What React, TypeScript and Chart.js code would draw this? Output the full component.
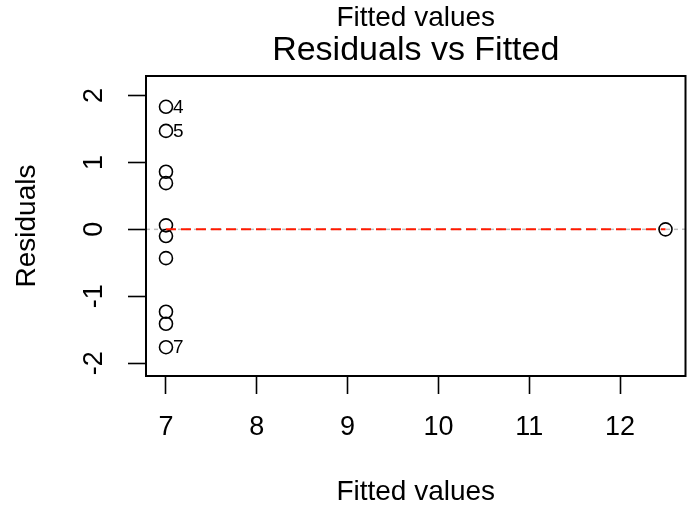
import React, { useEffect, useRef } from "react";
import { Chart, registerables } from "chart.js";

Chart.register(...registerables);

const FONT = "'Liberation Sans', Arial, Helvetica, sans-serif";

// Fitted values and residuals of the linear model, one entry per observation
const fittedValues = [7, 7, 7, 7, 7, 7, 7, 7, 7, 7, 12.5];
const residuals = [0.86, -0.43, 0.06, 1.83, 1.47, -1.23, -1.76, 0.69, -0.1, -1.41, 0.0];
const obsIds = ["1", "2", "3", "4", "5", "6", "7", "8", "9", "10", "11"];
// Observations with the largest absolute residuals get an id label
const flaggedIds = ["4", "5", "7"];

// Smoothed trend of residuals against fitted values
const smoothFitted = [7, 12.5];
const smoothResid = [0, 0];

const xTicks = [7, 8, 9, 10, 11, 12];
const yTicks = [-2, -1, 0, 1, 2];
const xLimits = [6.78, 12.72];
const yLimits = [-2.19, 2.29];

const W = 694;
const H = 512;

const decorPlugin = {
  id: "rDecor",
  beforeDatasetsDraw(chart: any) {
    const { ctx, chartArea: a, scales } = chart;
    const y0 = scales.y.getPixelForValue(0);
    ctx.save();
    ctx.beginPath();
    ctx.rect(a.left, a.top, a.right - a.left, a.bottom - a.top);
    ctx.clip();
    ctx.strokeStyle = "#bebebe";
    ctx.lineWidth = 1.5;
    ctx.setLineDash([4, 4]);
    ctx.beginPath();
    ctx.moveTo(a.left, y0);
    ctx.lineTo(a.right, y0);
    ctx.stroke();
    ctx.restore();
  },
  afterDatasetsDraw(chart: any) {
    const { ctx, chartArea: a } = chart;
    const meta = chart.getDatasetMeta(1);
    ctx.save();
    ctx.fillStyle = "#000";
    ctx.font = `19px ${FONT}`;
    ctx.textAlign = "left";
    ctx.textBaseline = "middle";
    meta.data.forEach((pt: any, i: number) => {
      const id = obsIds[i];
      if (flaggedIds.includes(id)) {
        ctx.fillText(id, pt.x + 7, pt.y + 1);
      }
    });
    ctx.strokeStyle = "#000";
    ctx.lineWidth = 2;
    ctx.setLineDash([]);
    ctx.strokeRect(a.left, a.top, a.right - a.left, a.bottom - a.top);
    ctx.restore();
  },
};

export default function App() {
  const ref = useRef<HTMLCanvasElement | null>(null);

  useEffect(() => {
    if (!ref.current) return;
    const points = fittedValues.map((x, i) => ({ x, y: residuals[i] }));
    const smooth = smoothFitted.map((x, i) => ({ x, y: smoothResid[i] }));
    const tickFont = { family: FONT, size: 27, weight: "normal" as const, lineHeight: 1.2 };
    const labelFont = { family: FONT, size: 28, weight: "normal" as const, lineHeight: 1 };

    const chart = new Chart(ref.current, {
      type: "scatter",
      data: {
        datasets: [
          {
            type: "line",
            label: "smooth",
            data: smooth,
            borderColor: "#ff1a00",
            borderWidth: 2,
            borderDash: [10, 5],
            pointRadius: 0,
            showLine: true,
            fill: false,
          } as any,
          {
            type: "scatter",
            label: "residuals",
            data: points,
            pointStyle: "circle",
            pointRadius: 6.5,
            pointBorderWidth: 1.6,
            borderColor: "#000",
            backgroundColor: "rgba(0,0,0,0)",
            pointBackgroundColor: "rgba(0,0,0,0)",
            pointBorderColor: "#000",
          } as any,
        ],
      },
      options: {
        animation: false,
        responsive: false,
        devicePixelRatio: 1,
        layout: { padding: { left: 0, right: 8.5, top: 0, bottom: 0 } },
        plugins: {
          legend: { display: false },
          tooltip: { enabled: false },
          title: {
            display: true,
            fullSize: false,
            text: "Fitted values",
            color: "#000",
            font: labelFont,
            padding: { top: 4, bottom: 0 },
          },
          subtitle: {
            display: true,
            fullSize: false,
            text: "Residuals vs Fitted",
            color: "#000",
            font: { family: FONT, size: 34, weight: "normal", lineHeight: 1 },
            padding: { top: 2, bottom: 8 },
          },
        },
        scales: {
          x: {
            type: "linear",
            position: "bottom",
            min: xLimits[0],
            max: xLimits[1],
            afterBuildTicks: (s: any) => {
              s.ticks = xTicks.map((v) => ({ value: v }));
            },
            afterFit: (s: any) => {
              s.height = 136;
            },
            grid: {
              display: true,
              drawOnChartArea: false,
              drawTicks: true,
              tickLength: 18,
              tickWidth: 1.6,
              tickColor: "#000",
              color: "#000",
            },
            border: { display: true, color: "#000", width: 2 },
            ticks: {
              color: "#000",
              font: tickFont,
              padding: 17,
              maxRotation: 0,
              minRotation: 0,
              autoSkip: false,
              callback: (v: any) => String(v),
            },
            title: {
              display: true,
              text: "Fitted values",
              color: "#000",
              font: labelFont,
              padding: { top: 0, bottom: 6 },
            },
          },
          y: {
            type: "linear",
            position: "left",
            min: yLimits[0],
            max: yLimits[1],
            afterBuildTicks: (s: any) => {
              s.ticks = yTicks.map((v) => ({ value: v }));
            },
            afterFit: (s: any) => {
              s.width = 146;
            },
            grid: {
              display: true,
              drawOnChartArea: false,
              drawTicks: true,
              tickLength: 18,
              tickWidth: 1.6,
              tickColor: "#000",
              color: "#000",
            },
            border: { display: true, color: "#000", width: 2 },
            ticks: {
              color: "#000",
              font: tickFont,
              padding: 21,
              minRotation: 90,
              maxRotation: 90,
              crossAlign: "center",
              autoSkip: false,
              callback: (v: any) => String(v),
            },
            title: {
              display: true,
              text: "Residuals",
              color: "#000",
              font: labelFont,
              padding: { top: 13, bottom: 0 },
            },
          },
        },
      } as any,
      plugins: [decorPlugin],
    });

    return () => chart.destroy();
  }, []);

  return (
    <canvas
      ref={ref}
      width={W}
      height={H}
      style={{ position: "fixed", left: 0, top: 0, width: W, height: H, background: "#fff" }}
    />
  );
}
